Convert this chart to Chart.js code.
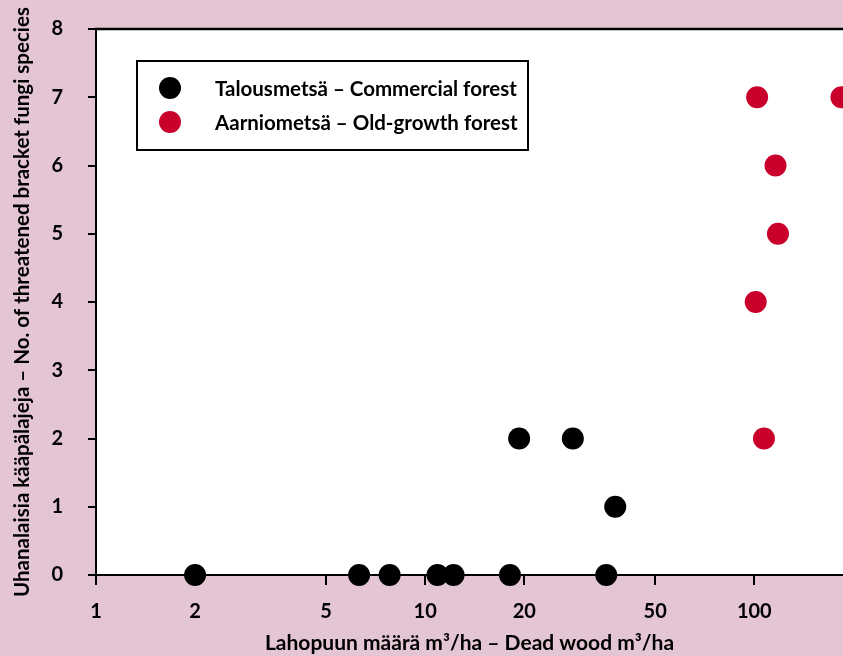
<!DOCTYPE html>
<html>
<head>
<meta charset="utf-8">
<script src="https://cdn.jsdelivr.net/npm/chart.js@4/dist/chart.umd.min.js"></script>
<style>
  html, body { margin: 0; padding: 0; background: #e4c5d4; overflow: hidden; }
  #wrap { width: 843px; height: 656px; }
</style>
</head>
<body>
<div id="wrap"><canvas id="chart" width="843" height="656"></canvas></div>
<script>
// Series labels
const seriesLabels = ['Talousmetsä – Commercial forest', 'Aarniometsä – Old-growth forest'];

// Commercial forests: dead wood (m³/ha) and threatened bracket fungi species
const commercialDeadWood = [2, 6.3, 7.8, 10.9, 12.2, 18.1, 35.5, 19.3, 28.1, 37.8];
const commercialSpecies  = [0, 0, 0, 0, 0, 0, 0, 2, 2, 1];

// Old-growth forests
const oldGrowthDeadWood = [102, 184, 116, 118, 101, 107];
const oldGrowthSpecies  = [7, 7, 6, 5, 4, 2];

// Axis ticks and titles
const xTickValues = [1, 2, 5, 10, 20, 50, 100];
const yTickValues = [0, 1, 2, 3, 4, 5, 6, 7, 8];
const xTitle = 'Lahopuun määrä m³/ha – Dead wood m³/ha';
const yTitle = 'Uhanalaisia kääpälajeja – No. of threatened bracket fungi species';

const PINK = '#e4c5d4';
const RED = '#c8002b';
const FONT = 'Lato';

function toPoints(xs, ys) {
  return xs.map((x, i) => ({ x: x, y: ys[i] }));
}

// keep the plotting panel flush with the layout padding
function noScalePadding(scale) {
  scale.paddingTop = 0;
  scale.paddingBottom = 0;
  scale.paddingLeft = 0;
  scale.paddingRight = 0;
}

// Pink page, white plotting panel, top frame line and boxed legend
const panelPlugin = {
  id: 'panel',
  beforeDraw(chart) {
    const { ctx, chartArea: a, width, height } = chart;
    ctx.save();
    ctx.fillStyle = PINK;
    ctx.fillRect(0, 0, width, height);
    ctx.fillStyle = '#ffffff';
    ctx.fillRect(a.left, a.top, a.right - a.left, a.bottom - a.top);
    ctx.restore();
  },
  afterDraw(chart) {
    const { ctx, chartArea: a } = chart;
    ctx.save();
    // top frame line
    ctx.strokeStyle = '#000';
    ctx.lineWidth = 2.5;
    ctx.beginPath();
    ctx.moveTo(a.left - 1, a.top);
    ctx.lineTo(a.right, a.top);
    ctx.stroke();

    // legend box
    const bx = a.left + 41, by = a.top + 32, bw = 391, bh = 89;
    ctx.fillStyle = '#fff';
    ctx.fillRect(bx, by, bw, bh);
    ctx.lineWidth = 2;
    ctx.strokeRect(bx, by, bw, bh);
    chart.data.datasets.forEach((ds, i) => {
      const cy = by + 27 + i * 34;
      ctx.fillStyle = ds.backgroundColor;
      ctx.beginPath();
      ctx.arc(bx + 33, cy, 11, 0, Math.PI * 2);
      ctx.fill();
      ctx.fillStyle = '#000';
      ctx.font = 'bold 20.5px ' + FONT;
      ctx.textAlign = 'left';
      ctx.textBaseline = 'alphabetic';
      ctx.fillText(ds.label, bx + 78, cy + 8);
    });
    ctx.restore();
  }
};

new Chart(document.getElementById('chart'), {
  type: 'scatter',
  data: {
    datasets: [
      {
        label: seriesLabels[0],
        data: toPoints(commercialDeadWood, commercialSpecies),
        backgroundColor: '#000000',
        borderColor: '#000000',
        borderWidth: 0,
        pointRadius: 11,
        pointHoverRadius: 11,
        clip: false
      },
      {
        label: seriesLabels[1],
        data: toPoints(oldGrowthDeadWood, oldGrowthSpecies),
        backgroundColor: RED,
        borderColor: RED,
        borderWidth: 0,
        pointRadius: 11,
        pointHoverRadius: 11,
        clip: false
      }
    ]
  },
  options: {
    responsive: false,
    animation: false,
    events: [],
    layout: { autoPadding: false, padding: { top: 29, right: 0, bottom: 0, left: 0 } },
    plugins: {
      legend: { display: false },
      tooltip: { enabled: false }
    },
    scales: {
      x: {
        type: 'logarithmic',
        min: 1,
        max: 186,
        afterBuildTicks: (scale) => { scale.ticks = xTickValues.map(v => ({ value: v })); },
        afterFit: (scale) => { scale.height = 81; noScalePadding(scale); },
        ticks: {
          autoSkip: false,
          maxRotation: 0,
          padding: 15,
          color: '#000',
          font: { family: FONT, size: 20, weight: 'bold' },
          callback: (v) => String(v)
        },
        grid: { drawOnChartArea: false, tickLength: 10, color: '#000', lineWidth: 2 },
        border: { color: '#000', width: 2 },
        title: {
          display: true,
          text: xTitle,
          color: '#000',
          font: { family: FONT, size: 21, weight: 'bold' },
          padding: { top: 0, bottom: 0 }
        }
      },
      y: {
        min: 0,
        max: 8,
        afterBuildTicks: (scale) => { scale.ticks = yTickValues.map(v => ({ value: v })); },
        afterFit: (scale) => { scale.width = 96; noScalePadding(scale); },
        ticks: {
          padding: 25,
          color: '#000',
          font: { family: FONT, size: 20, weight: 'bold' }
        },
        grid: { drawOnChartArea: false, tickLength: 8, color: '#000', lineWidth: 2 },
        border: { color: '#000', width: 2 },
        title: {
          display: true,
          text: yTitle,
          color: '#000',
          font: { family: FONT, size: 20.5, weight: 'bold' },
          padding: { top: 10, bottom: 0 }
        }
      }
    }
  },
  plugins: [panelPlugin]
});
</script>
</body>
</html>
